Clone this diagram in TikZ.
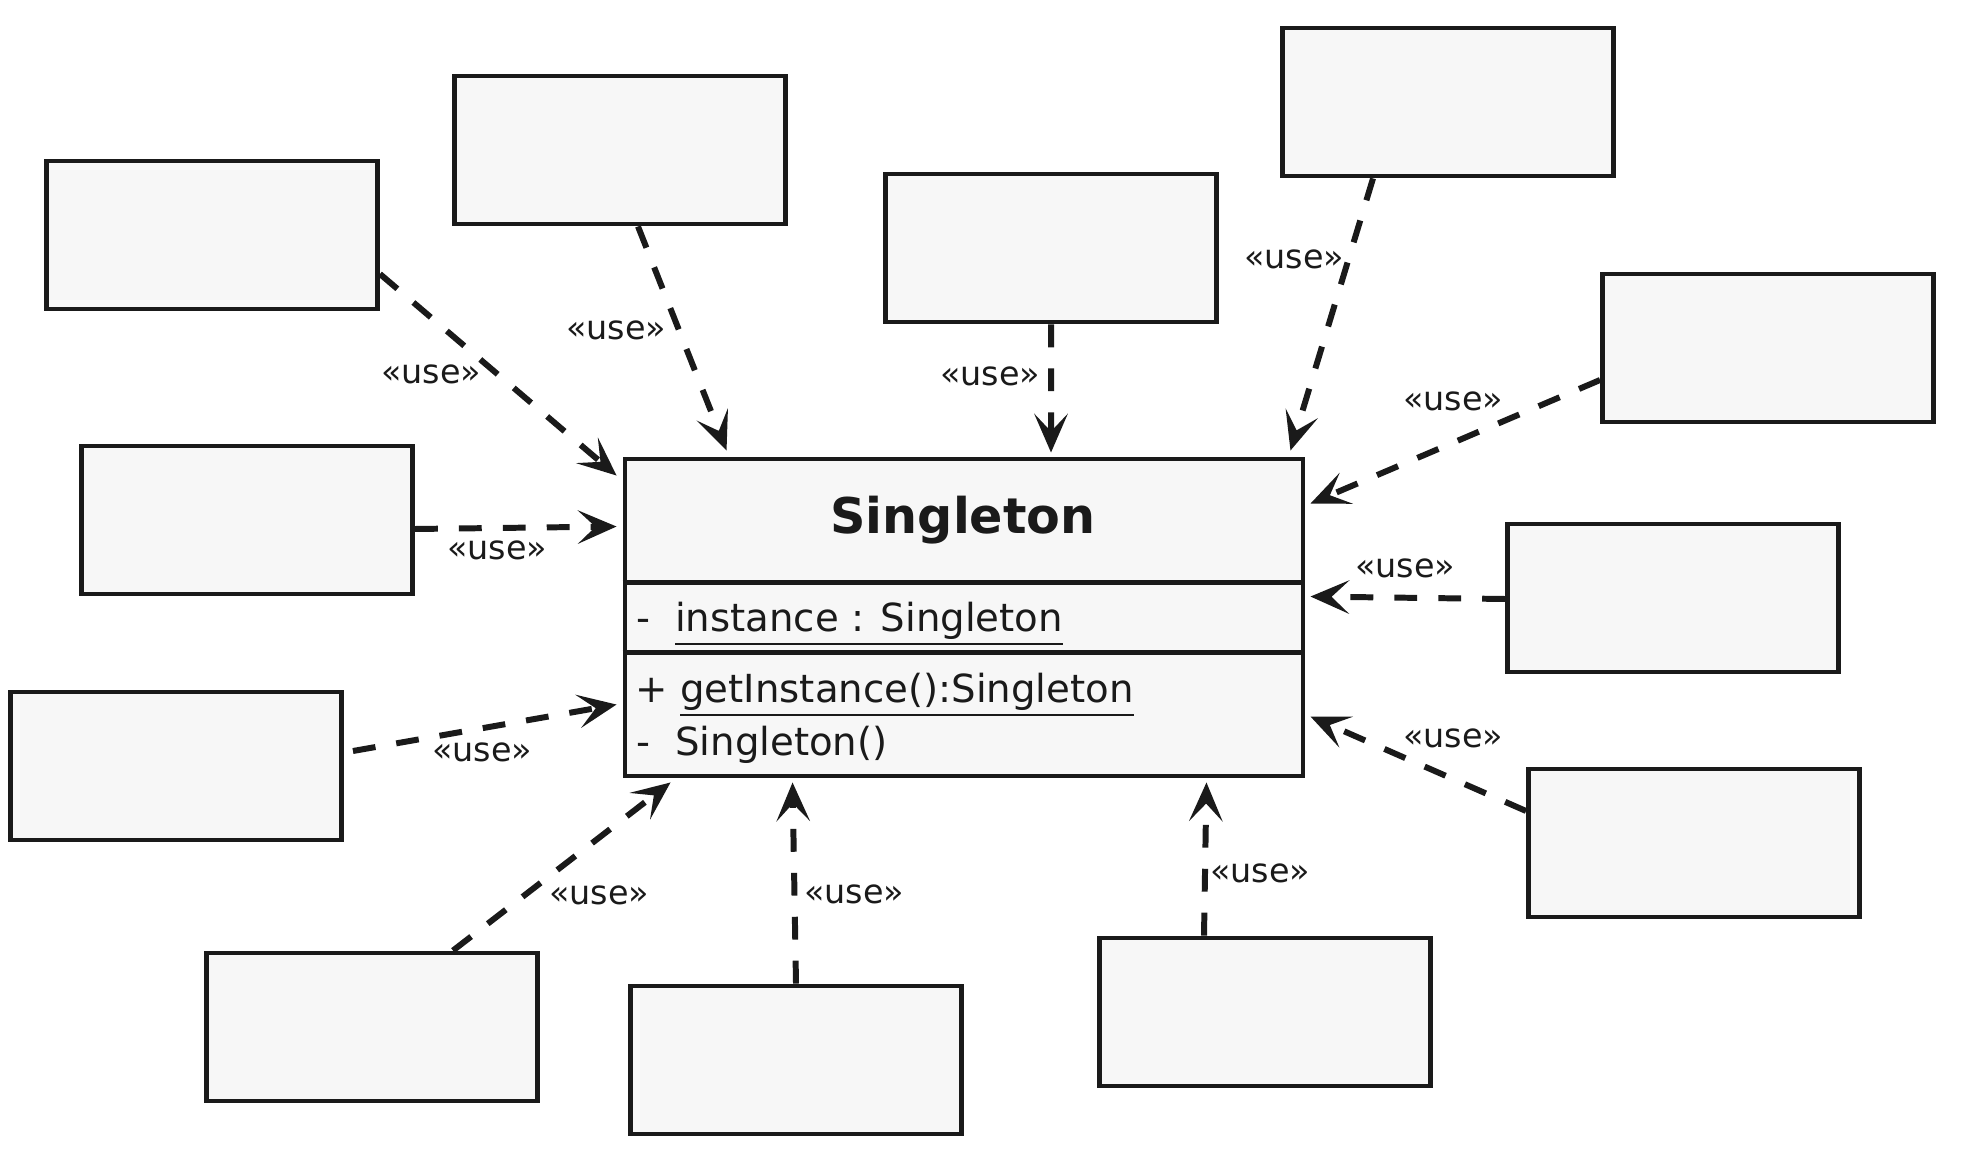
\documentclass[tikz,border=0pt]{standalone}
\usepackage{fontspec}
\setmainfont{DejaVu Sans}
\usetikzlibrary{arrows.meta}
\definecolor{boxfill}{HTML}{F7F7F7}
\definecolor{ink}{HTML}{1A1A1A}
\begin{document}
\begin{tikzpicture}

\tikzstyle{client}=[draw=ink, line width=1.4pt, fill=boxfill, minimum width=3.31cm, minimum height=1.48cm, inner sep=0pt]
\tikzstyle{cls}=[draw=ink, line width=1.4pt, fill=boxfill, minimum width=6.78cm, minimum height=3.17cm, inner sep=0pt]
\tikzstyle{use}=[draw=ink, line width=1.7pt, dash pattern=on 6.5pt off 6pt, -{Stealth[length=11pt, width=9.5pt, inset=5pt]}]
\tikzstyle{lbl}=[text=ink, font=\fontsize{9.5}{11}\selectfont, inner sep=1pt]
\tikzstyle{member}=[text=ink, font=\fontsize{11}{13}\selectfont, anchor=west, inner sep=0pt]

\useasboundingbox (0,0) rectangle (19.72,-11.64);

% the singleton class
\node[cls] (single) at (9.64,-6.175) {};
\node[text=ink, font=\fontsize{14}{16}\selectfont\bfseries] (title) at (9.63,-5.20) {Singleton};
\coordinate (d1w) at ([yshift=-1.26cm]single.north west);
\coordinate (d1e) at ([yshift=-1.26cm]single.north east);
\coordinate (d2w) at ([yshift=-1.96cm]single.north west);
\coordinate (d2e) at ([yshift=-1.96cm]single.north east);
\draw[ink, line width=1.4pt] (d1w) -- (d1e);
\draw[ink, line width=1.4pt] (d2w) -- (d2e);
\node[member] (attr) at (6.36,-6.24) {-\ \ \underline{instance : Singleton}};
\node[member] (getinst) at (6.35,-6.95) {+ \underline{getInstance():Singleton}};
\node[member] (ctor) at (6.36,-7.45) {-\ \ Singleton()};

% the clients
\node[client] (A) at (2.12,-2.35) {};
\node[client] (B) at (6.20,-1.50) {};
\node[client] (C) at (10.51,-2.48) {};
\node[client] (D) at (14.48,-1.02) {};
\node[client] (E) at (17.68,-3.48) {};
\node[client] (F) at (2.47,-5.20) {};
\node[client] (G) at (16.73,-5.98) {};
\node[client] (H) at (1.76,-7.66) {};
\node[client] (I) at (16.94,-8.43) {};
\node[client] (J) at (3.72,-10.27) {};
\node[client] (K) at (7.96,-10.60) {};
\node[client] (L) at (12.65,-10.12) {};

% dependencies
\draw[use] ([yshift=-0.39cm]A.east) -- ([shift={(-0.06,-0.19)}]single.north west);
\draw[use] ([xshift=0.18cm]B.south) -- ([shift={(1.04,0.06)}]single.north west);
\draw[use] (C.south) -- ([shift={(0.87,0.04)}]single.north);
\draw[use] ([xshift=-0.75cm]D.south) -- ([shift={(-0.15,0.06)}]single.north east);
\draw[use] ([yshift=-0.32cm]E.west) -- ([shift={(0.05,-0.47)}]single.north east);
\draw[use] ([yshift=-0.09cm]F.east) -- ([shift={(-0.06,-0.70)}]single.north west);
\draw[use] ([yshift=-0.01cm]G.west) -- ([shift={(0.05,-1.40)}]single.north east);
\draw[use] ([shift={(0.09,0.15)}]H.east) -- ([shift={(-0.06,-2.48)}]single.north west);
\draw[use] ([yshift=0.32cm]I.west) -- ([shift={(0.05,-2.60)}]single.north east);
\draw[use] ([xshift=0.81cm]J.north) -- ([shift={(0.48,-0.04)}]single.south west);
\draw[use] (K.north) -- ([shift={(1.70,-0.04)}]single.south west);
\draw[use] ([xshift=-0.61cm]L.north) -- ([shift={(-0.99,-0.04)}]single.south east);

% labels
\node[lbl] (uA) at (4.31,-3.74) {«use»};
\node[lbl] (uB) at (6.16,-3.30) {«use»};
\node[lbl] (uC) at (9.90,-3.76) {«use»};
\node[lbl] (uD) at (12.94,-2.59) {«use»};
\node[lbl] (uE) at (14.53,-4.01) {«use»};
\node[lbl] (uF) at (4.97,-5.50) {«use»};
\node[lbl] (uG) at (14.05,-5.68) {«use»};
\node[lbl] (uH) at (4.82,-7.52) {«use»};
\node[lbl] (uI) at (14.53,-7.38) {«use»};
\node[lbl] (uJ) at (5.99,-8.95) {«use»};
\node[lbl] (uK) at (8.54,-8.94) {«use»};
\node[lbl] (uL) at (12.60,-8.73) {«use»};
\end{tikzpicture}
\end{document}
